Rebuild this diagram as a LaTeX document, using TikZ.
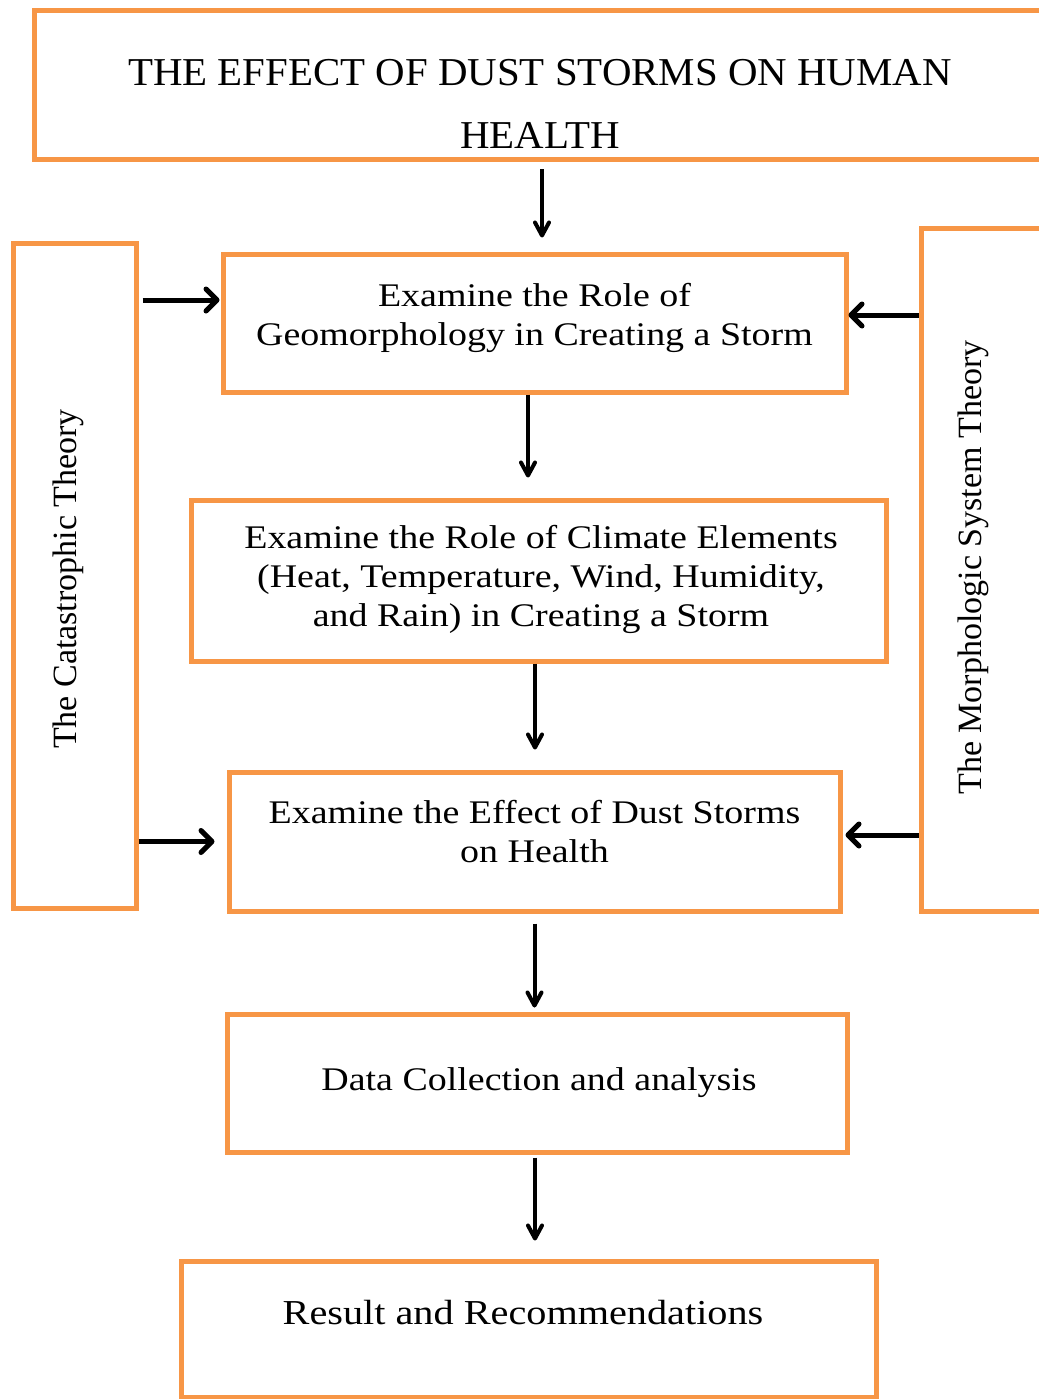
\documentclass[tikz,border=0pt]{standalone}
\usepackage{fontspec}
\setmainfont{Liberation Serif}
\newfontfamily\boxfont[FakeStretch=1.15]{Liberation Serif}
\newfontfamily\titlefont[FakeStretch=1.035]{Liberation Serif}
\usepackage{xcolor}
\usetikzlibrary{arrows.meta,positioning}
\definecolor{boxorange}{HTML}{F79646}

\begin{document}
\begin{tikzpicture}[
  x=1pt, y=-1pt,
  box/.style={rectangle, draw=boxorange, line width=5pt, inner sep=0pt},
  txt/.style={align=center, font=\boxfont\fontsize{33}{39}\selectfont},
  ttl/.style={align=center, font=\titlefont\fontsize{39.5}{63}\selectfont},
  vtxt/.style={align=center, font=\fontsize{34}{40}\selectfont},
  varr/.style={line width=4pt, -{Straight Barb[length=13pt, width=14pt, line cap=round, line join=round]}},
  harr/.style={line width=5pt, -{Straight Barb[length=11pt, width=22pt, line cap=round, line join=round]}}
]
  \useasboundingbox (0,0) rectangle (1038,1399);

  \node[box, minimum width=1011.5pt, minimum height=149.5pt,
    label={[ttl, yshift=-18.5pt]center:THE EFFECT OF DUST STORMS ON HUMAN\\HEALTH}] (title) at (540,85) {};
  \node[box, minimum width=123pt, minimum height=665pt,
    label={[vtxt, xshift=-6.5pt, yshift=-3.5pt, rotate=90]center:The Catastrophic Theory}] (cat) at (74.5,575.5) {};
  \node[box, minimum width=139pt, minimum height=683pt,
    label={[vtxt, xshift=-17.5pt, yshift=2pt, rotate=90]center:The Morphologic System Theory}] (morph) at (990.5,569.5) {};

  \node[box, minimum width=623pt, minimum height=138pt,
    label={[txt, yshift=5pt]center:Examine the Role of\\Geomorphology in Creating a Storm}] (geo) at (534.5,323) {};
  \node[box, minimum width=695pt, minimum height=161pt,
    label={[txt, xshift=2.5pt, yshift=1pt]center:Examine the Role of Climate Elements\\(Heat, Temperature, Wind, Humidity,\\and Rain) in Creating a Storm}] (clim) at (538.5,580.5) {};
  \node[box, minimum width=611pt, minimum height=139pt,
    label={[txt, yshift=9.5pt]center:Examine the Effect of Dust Storms\\on Health}] (eff) at (534.5,841.5) {};
  \node[box, minimum width=620pt, minimum height=138pt,
    label={[txt, xshift=2pt, yshift=0pt]center:Data Collection and analysis}] (data) at (537,1083) {};
  \node[box, minimum width=695pt, minimum height=136pt,
    label={[txt, xshift=-5.5pt, yshift=16pt, font=\boxfont\fontsize{35}{40}\selectfont]center:Result and Recommendations}] (res) at (528.5,1329) {};

  % main flow
  \draw[varr, shorten <=7pt, shorten >=14pt] ([xshift=2pt]title.south) -- ([xshift=2pt]title.south |- geo.north);
  \draw[varr, shorten >=20pt] ([xshift=-6.5pt]geo.south) -- ([xshift=-6.5pt]geo.south |- clim.north);
  \draw[varr, shorten >=20pt] ([xshift=-3.5pt]clim.south) -- ([xshift=-3.5pt]clim.south |- eff.north);
  \draw[varr, shorten <=10pt, shorten >=4pt] (eff.south) -- (eff.south |- data.north);
  \draw[varr, shorten <=3pt, shorten >=18pt] ([xshift=-2pt]data.south) -- ([xshift=-2pt]data.south |- res.north);

  % theories
  \draw[harr, shorten <=4pt, shorten >=1pt] ([yshift=23pt]geo.west -| cat.east) -- ([yshift=23pt]geo.west);
  \draw[harr, shorten >=12pt] (eff.west -| cat.east) -- (eff.west);
  \draw[harr] ([yshift=8pt]geo.east -| morph.west) -- ([yshift=8pt]geo.east);
  \draw[harr, shorten >=3pt] ([yshift=6.5pt]eff.east -| morph.west) -- ([yshift=6.5pt]eff.east);
\end{tikzpicture}
\end{document}
